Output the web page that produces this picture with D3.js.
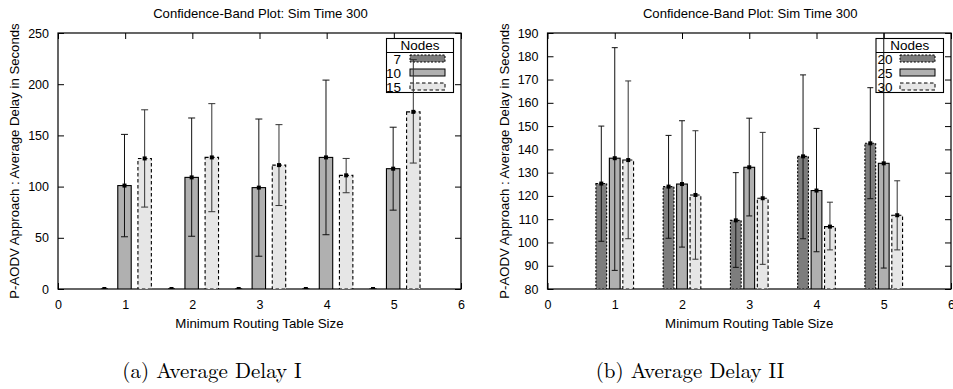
<!DOCTYPE html>
<html>
<head>
<meta charset="utf-8">
<script src="https://cdn.jsdelivr.net/npm/d3@7"></script>
<style>
  body { margin: 0; background: #fff; }
  svg { display: block; font-family: "Liberation Sans", Arial, sans-serif; }
</style>
</head>
<body>
<svg id="chart" width="953" height="389"></svg>
<script>
// x positions of the groups
const groups = [1, 2, 3, 4, 5]
const xTicks = [0, 1, 2, 3, 4, 5, 6]

// panel (a)
const nodesA = ["7", "10", "15"]
const meanA7 = [0, 0, 0, 0, 0]
const lowA7 = [0, 0, 0, 0, 0]
const highA7 = [0, 0, 0, 0, 0]
const meanA10 = [101, 109, 99, 128.5, 117.5]
const lowA10 = [51, 51.5, 32, 53, 77]
const highA10 = [151, 167, 166, 204, 158]
const meanA15 = [127.5, 128.5, 121, 111, 173]
const lowA15 = [80, 75.5, 81.5, 94, 123]
const highA15 = [175, 181, 160.5, 127.5, 224]
const yTicksA = [0, 50, 100, 150, 200, 250]

// panel (b)
const nodesB = ["20", "25", "30"]
const meanB20 = [125.3, 124, 109.5, 137, 142.6]
const lowB20 = [100.5, 101.8, 89.3, 101.6, 118.8]
const highB20 = [150, 146, 130, 172, 166.5]
const meanB25 = [136.2, 125.1, 132.3, 122.3, 134]
const lowB25 = [88, 98, 111.4, 96, 89]
const highB25 = [183.7, 152.3, 153.4, 149, 200]
const meanB30 = [135.4, 120.4, 119, 106.8, 111.7]
const lowB30 = [101.6, 92.8, 90.6, 96.8, 96.8]
const highB30 = [169.4, 148, 147.3, 117.3, 126.5]
const yTicksB = [80, 90, 100, 110, 120, 130, 140, 150, 160, 170, 180, 190]

const title = "Confidence-Band Plot: Sim Time 300"
const yLabel = "P-AODV Approach : Average Delay in Seconds"
const xLabel = "Minimum Routing Table Size"

// bar styles for the three series of each panel
const styles = [
    { fill: "#7d7d7d", dash: "2,1.6" },
    { fill: "#b0b0b0", dash: null },
    { fill: "#e6e6e6", dash: "3.5,2.5" }
]

const svg = d3.select('#chart')
svg.append('rect').attr('width', 953).attr('height', 389).attr('fill', '#fff')

function series(names, means, lows, highs) {
    return names.map((n, k) => ({
        name: n,
        vals: groups.map((g, i) => ({ g, mean: means[k][i], low: lows[k][i], high: highs[k][i] }))
    }))
}

function drawPanel(p) {
    const x = d3.scaleLinear().domain([0, 6]).range([p.left, p.right])
    const y = d3.scaleLinear().domain(p.yDomain).range([p.bottom, p.top])
    const g = svg.append('g')

    const clipId = 'clip' + p.id
    g.append('clipPath').attr('id', clipId)
        .append('rect')
        .attr('x', p.left).attr('y', p.top)
        .attr('width', p.right - p.left).attr('height', p.bottom - p.top)

    // axes with ticks pointing inwards, mirrored
    g.append('g')
        .attr('transform', `translate(0,${p.bottom})`)
        .call(d3.axisBottom(x).tickValues(xTicks).tickSizeInner(-6).tickSizeOuter(0).tickPadding(11).tickFormat(d3.format('d')))
    g.append('g')
        .attr('transform', `translate(0,${p.top})`)
        .call(d3.axisTop(x).tickValues(xTicks).tickSizeInner(-6).tickSizeOuter(0).tickFormat(''))
    g.append('g')
        .attr('transform', `translate(${p.left},0)`)
        .call(d3.axisLeft(y).tickValues(p.yTicks).tickSizeInner(-6).tickSizeOuter(0).tickPadding(9))
    g.append('g')
        .attr('transform', `translate(${p.right},0)`)
        .call(d3.axisRight(y).tickValues(p.yTicks).tickSizeInner(-6).tickSizeOuter(0).tickFormat(''))

    g.selectAll('.domain').remove()
    g.selectAll('.tick line').attr('stroke', '#000')
    g.selectAll('.tick text').attr('font-size', 12.5).attr('fill', '#000')
        .attr('font-family', '"Liberation Sans", Arial, sans-serif')

    g.append('rect')
        .attr('x', p.left).attr('y', p.top)
        .attr('width', p.right - p.left).attr('height', p.bottom - p.top)
        .attr('fill', 'none').attr('stroke', '#000').attr('stroke-width', 1.2)

    // legend
    const lg = g.append('g')
    const lx0 = p.legend[0], lx1 = p.legend[1], ly0 = 38.5
    lg.append('rect').attr('x', lx0).attr('y', ly0).attr('width', lx1 - lx0).attr('height', 54)
        .attr('fill', '#fff').attr('stroke', '#000').attr('stroke-width', 1.1)
    lg.append('line').attr('x1', lx0).attr('x2', lx1).attr('y1', 52.5).attr('y2', 52.5)
        .attr('stroke', '#000').attr('stroke-width', 1.1)
    lg.append('text').attr('x', (lx0 + lx1) / 2).attr('y', 49.5)
        .attr('text-anchor', 'middle').attr('font-size', 13.5).text('Nodes')
    p.data.forEach((s, k) => {
        const cy = 58.5 + k * 14
        lg.append('text').attr('x', p.legendText).attr('y', cy + 5)
            .attr('text-anchor', 'end').attr('font-size', 13.5).text(s.name)
        lg.append('rect').attr('x', p.sample[0]).attr('y', cy - 3.5)
            .attr('width', p.sample[1] - p.sample[0]).attr('height', 7)
            .attr('fill', styles[k].fill).attr('stroke', '#000').attr('stroke-width', 1)
            .attr('stroke-dasharray', styles[k].dash)
    })

    // bars + error bars
    const plot = g.append('g').attr('clip-path', `url(#${clipId})`)
    const bw = x(p.barWidth) - x(0)
    p.data.forEach((s, k) => {
        const sg = plot.append('g')
        sg.selectAll('rect.bar')
            .data(s.vals)
            .enter()
            .append('rect')
            .attr('class', 'bar')
            .attr('x', d => x(d.g + p.offsets[k]) - bw / 2)
            .attr('y', d => y(d.mean))
            .attr('width', bw)
            .attr('height', d => y(p.yDomain[0]) - y(d.mean))
            .attr('fill', styles[k].fill)
            .attr('stroke', '#000')
            .attr('stroke-width', 1.1)
            .attr('stroke-dasharray', styles[k].dash)
    })
    p.data.forEach((s, k) => {
        const eg = plot.append('g')
        const cx = d => x(d.g + p.offsets[k])
        const col = k === 2 ? '#333' : '#111'
        eg.selectAll('line.err')
            .data(s.vals)
            .enter()
            .append('line')
            .attr('x1', cx).attr('x2', cx)
            .attr('y1', d => y(d.low)).attr('y2', d => y(d.high))
            .attr('stroke', col).attr('stroke-width', 1)
        ;['low', 'high'].forEach(key => {
            eg.selectAll('line.cap' + key)
                .data(s.vals)
                .enter()
                .append('line')
                .attr('x1', d => cx(d) - p.cap).attr('x2', d => cx(d) + p.cap)
                .attr('y1', d => y(d[key])).attr('y2', d => y(d[key]))
                .attr('stroke', col).attr('stroke-width', 1)
        })
        eg.selectAll('rect.pt')
            .data(s.vals)
            .enter()
            .append('rect')
            .attr('x', d => cx(d) - 2).attr('y', d => y(d.mean) - 2)
            .attr('width', 4).attr('height', 4)
            .attr('fill', '#000')
    })

    // texts
    g.append('text').attr('x', (p.left + p.right) / 2 + 1).attr('y', 17.5)
        .attr('text-anchor', 'middle').attr('font-size', 13.1).text(title)
    g.append('text').attr('x', (p.left + p.right) / 2).attr('y', 328)
        .attr('text-anchor', 'middle').attr('font-size', 13.3).text(xLabel)
    g.append('text')
        .attr('transform', `translate(${p.yLabelX},${(p.top + p.bottom) / 2}) rotate(-90)`)
        .attr('text-anchor', 'middle').attr('font-size', 13.2).text(yLabel)
    svg.append('text').attr('x', p.caption[0]).attr('y', p.caption[1])
        .attr('text-anchor', 'middle')
        .attr('font-family', '"Latin Modern Roman", "CMU Serif", "Liberation Serif", "DejaVu Serif", serif')
        .attr('font-size', 21).text(p.captionText)
}

drawPanel({
    id: 'a', left: 58, right: 461, top: 33, bottom: 289,
    yDomain: [0, 250], yTicks: yTicksA,
    data: series(nodesA, [meanA7, meanA10, meanA15], [lowA7, lowA10, lowA15], [highA7, highA10, highA15]),
    offsets: [-0.31, -0.01, 0.29], barWidth: 0.2, cap: 3.5,
    legend: [386.5, 453.5], legendText: 401, sample: [410, 445],
    yLabelX: 19, caption: [212, 378], captionText: '(a) Average Delay I'
})

drawPanel({
    id: 'b', left: 547.5, right: 951, top: 33, bottom: 289,
    yDomain: [80, 190], yTicks: yTicksB,
    data: series(nodesB, [meanB20, meanB25, meanB30], [lowB20, lowB25, lowB30], [highB20, highB25, highB30]),
    offsets: [-0.2, 0, 0.2], barWidth: 0.16, cap: 3,
    legend: [876, 943.5], legendText: 892.5, sample: [900, 935],
    yLabelX: 509, caption: [690, 378], captionText: '(b) Average Delay II'
})
</script>
</body>
</html>
